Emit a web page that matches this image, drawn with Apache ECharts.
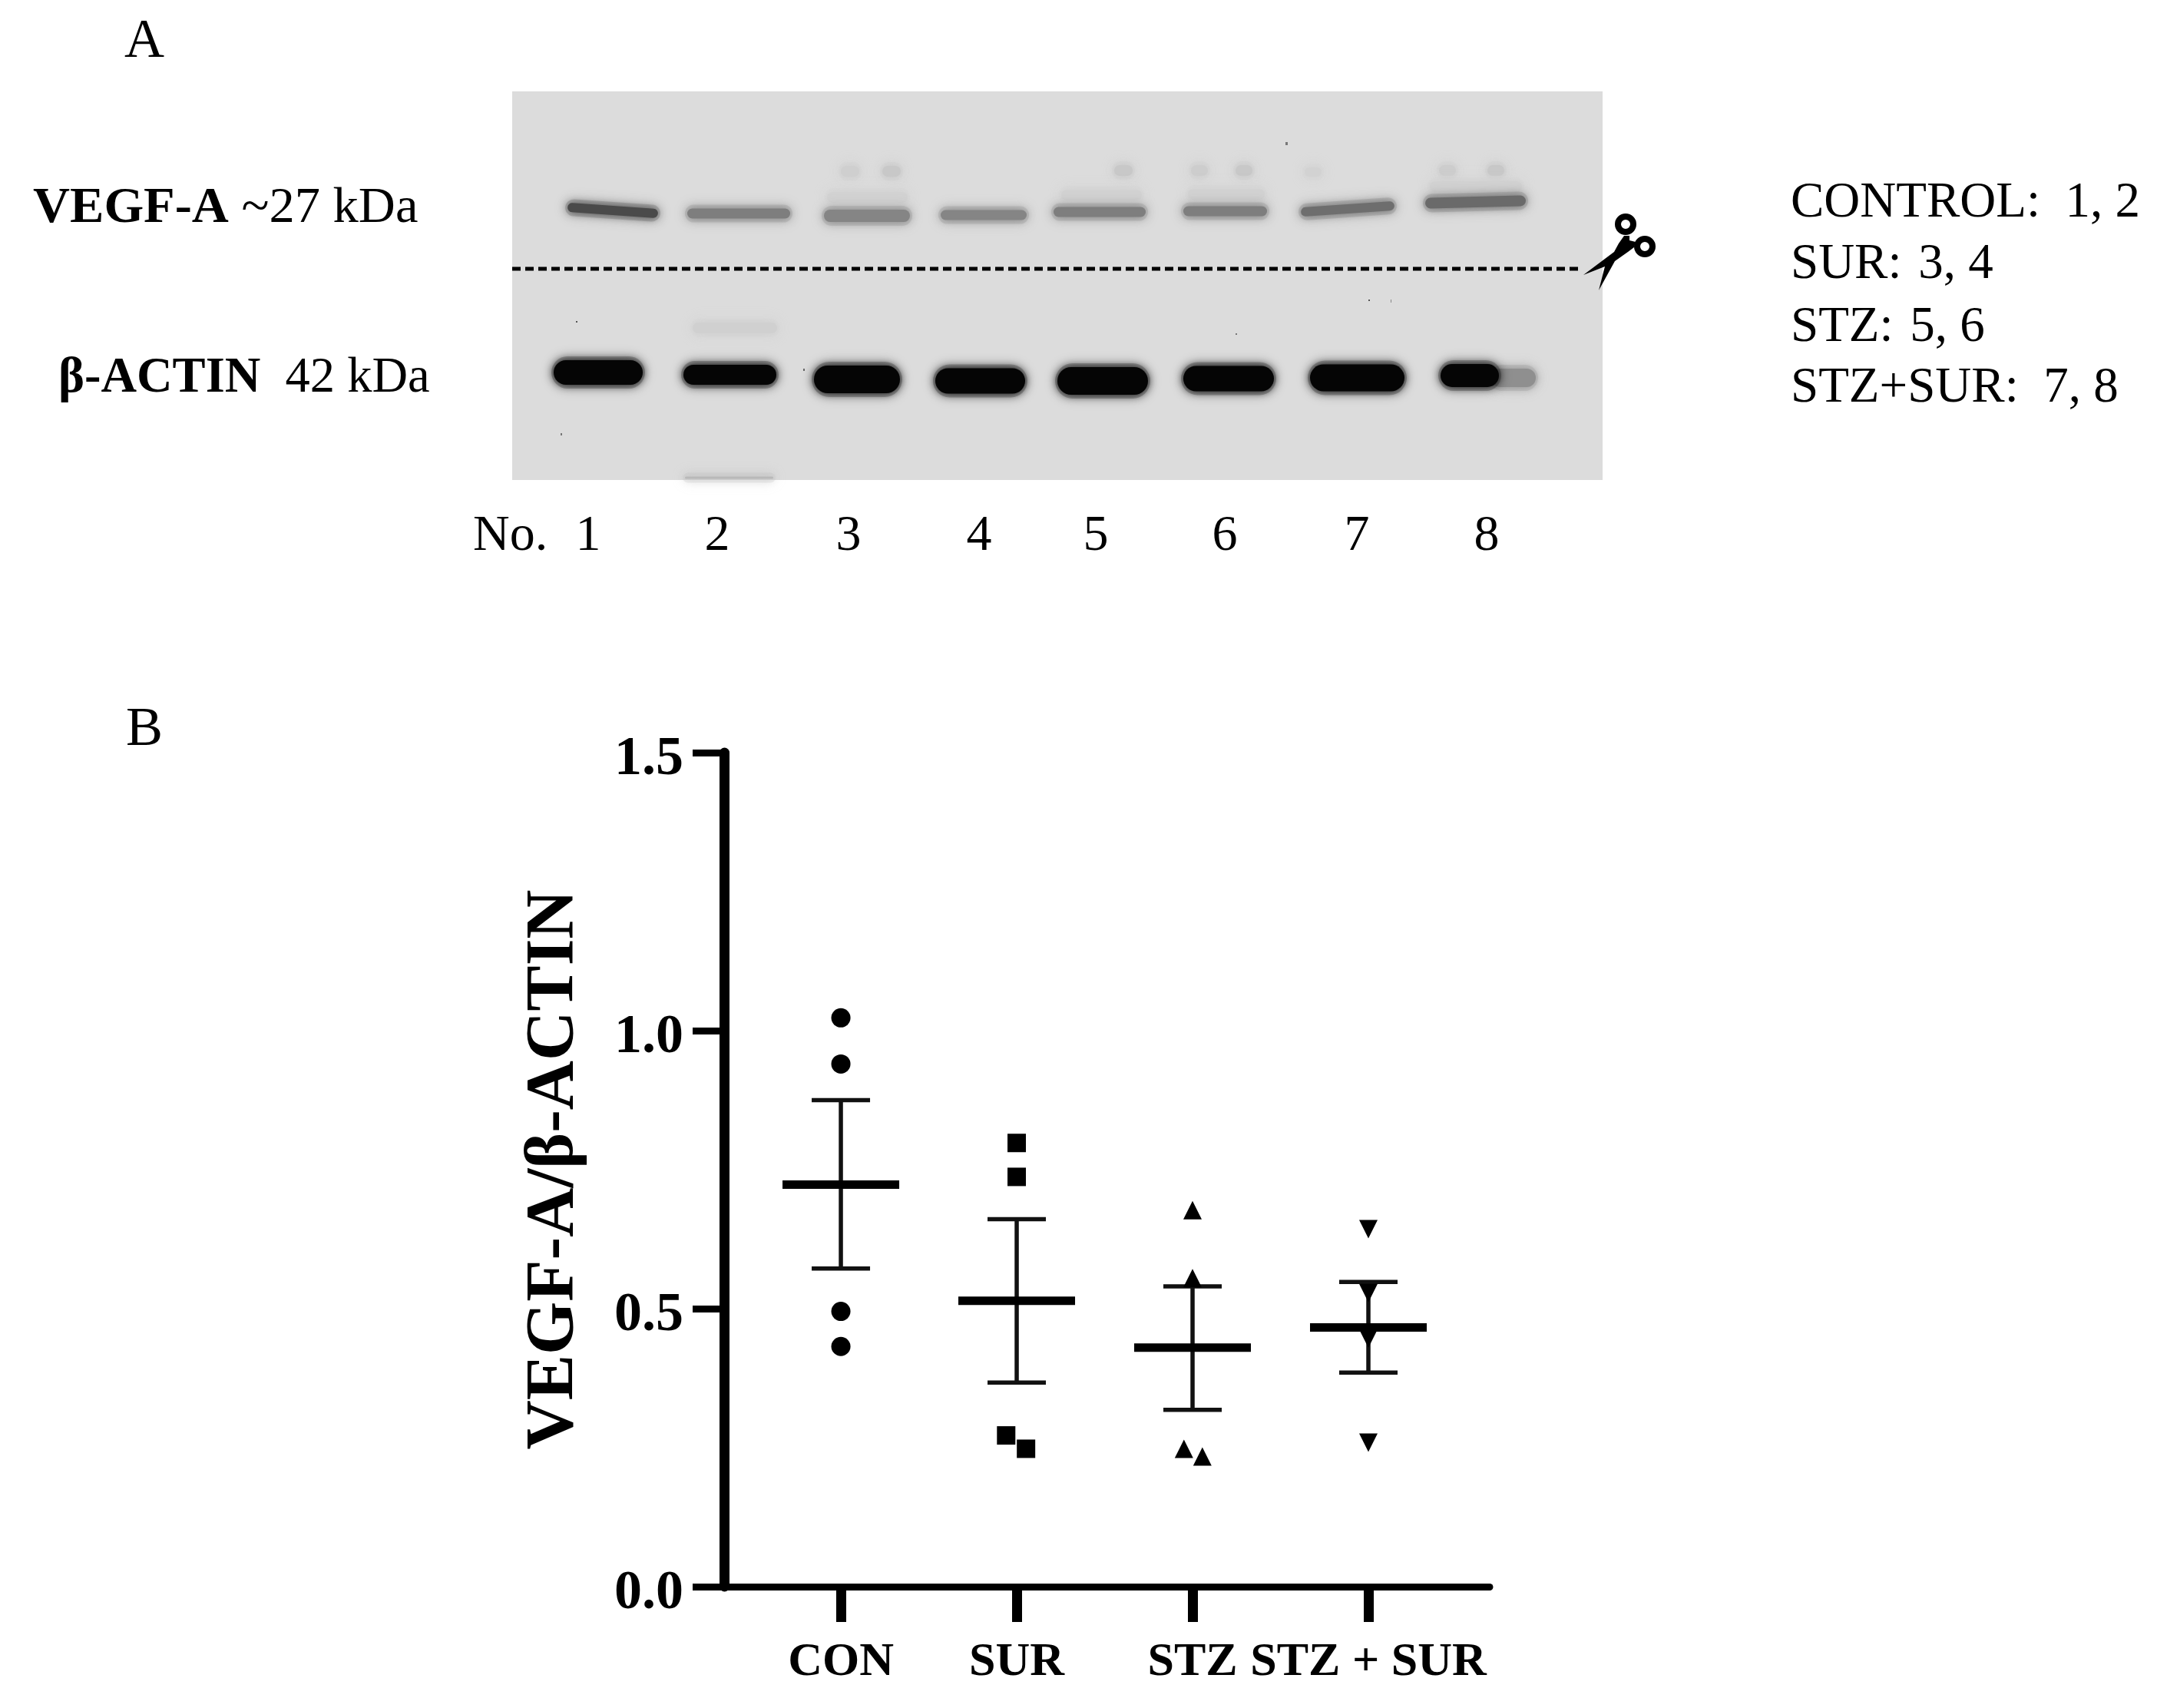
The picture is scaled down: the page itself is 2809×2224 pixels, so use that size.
<!DOCTYPE html>
<html>
<head>
<meta charset="utf-8">
<title>VEGF-A</title>
<script src="https://cdn.jsdelivr.net/npm/echarts@6/dist/echarts.min.js"></script>
<style>
    html, body { margin: 0; padding: 0; background: #fff; }
    #chart { width: 2809px; height: 2224px; }
</style>
</head>
<body>
<div id="chart"></div>
<script>
    // panel B, values
    const groupNames = ['CON', 'SUR', 'STZ', 'STZ + SUR'];
    const conValues = [1.023, 0.940, 0.495, 0.432];
    const surValues = [0.798, 0.737, 0.272, 0.248];
    const stzValues = [0.677, 0.555, 0.248, 0.234];
    const stzSurValues = [0.643, 0.528, 0.446, 0.259];
    const conX = [1, 1, 1, 1];
    const surX = [2, 2, 1.94, 2.053];
    const stzX = [3, 3, 2.951, 3.056];
    const stzSurX = [4, 4, 4, 4];
    const means = [0.723, 0.514, 0.430, 0.466];
    const semTop = [0.875, 0.661, 0.540, 0.548];
    const semBottom = [0.572, 0.367, 0.318, 0.385];
    const yTicks = [0, 0.5, 1, 1.5];

    // panel A, gel bands: [from, to, y, thickness, tilt, grey]
    const vegfBands = [
        [72, 190, 155, 12, 4, '#4a4a4a'],
        [228, 362, 159, 13, 0, '#7e7e7e'],
        [406, 518, 162, 16, 0, '#858585'],
        [558, 670, 161, 13, 0, '#858585'],
        [705, 825, 157, 13, 0, '#7e7e7e'],
        [874, 983, 156, 13, 0, '#7e7e7e'],
        [1027, 1149, 153, 12, -4, '#6e6e6e'],
        [1189, 1320, 144, 14, -1.5, '#6a6a6a']
    ];
    const actinBands = [
        [54, 170, 366, 32, 0, '#050505'],
        [223, 344, 369, 26, 0, '#050505'],
        [393, 505, 375, 36, 0, '#050505'],
        [551, 668, 377, 33, 0, '#050505'],
        [710, 828, 377, 36, 0, '#050505'],
        [874, 992, 374, 33, 0, '#050505'],
        [1039, 1162, 373, 35, 0, '#050505'],
        [1275, 1333, 373, 24, 0, '#8f8f8f'],
        [1209, 1285, 370, 30, 0, '#050505']
    ];
    const faintBands = [
        [428, 452, 104, 14, 0, '#cfcfcf'],
        [482, 506, 104, 14, 0, '#c8c8c8'],
        [784, 808, 103, 14, 0, '#c8c8c8'],
        [884, 906, 103, 14, 0, '#cdcdcd'],
        [942, 964, 103, 14, 0, '#c8c8c8'],
        [1032, 1054, 105, 12, 0, '#d2d2d2'],
        [1207, 1229, 103, 14, 0, '#cdcdcd'],
        [1270, 1292, 103, 14, 0, '#c8c8c8'],
        [410, 515, 138, 14, 0, '#d2d2d2'],
        [715, 820, 135, 14, 0, '#d2d2d2'],
        [880, 980, 134, 14, 0, '#d2d2d2'],
        [1195, 1315, 124, 14, 0, '#d2d2d2'],
        [235, 345, 308, 14, 0, '#d0d0d0'],
        [225, 340, 503, 3, 0, '#b9b9b9']
    ];
    const specks = [
        [83, 299, 2, 2, 0, '#555555'],
        [63, 445, 2, 3, 0, '#777777'],
        [379, 361, 2, 3, 0, '#666666'],
        [1007, 66, 3, 4, 0, '#777777'],
        [1115, 271, 2, 2, 0, '#555555'],
        [942, 315, 2, 2, 0, '#777777'],
        [1144, 271, 1, 4, 0, '#888888']
    ];
    const cutLine = [[0, 231], [1388, 231]];

    const laneNumbers = ['1', '2', '3', '4', '5', '6', '7', '8'];
    const laneLabelX = [766, 934, 1105, 1275, 1427, 1595, 1767, 1936];
    const legendLines = ['CONTROL:  1, 2', 'SUR:\u200a 3, 4', 'STZ:\u200a 5, 6', 'STZ+SUR:  7, 8'];
    const legendY = [265, 345, 427, 506];

    const serif = '"Liberation Serif", "Times New Roman", serif';

    function bandItem(params, api) {
        const a = api.coord([api.value(0), api.value(2)]);
        const b = api.coord([api.value(1), api.value(2)]);
        const thick = api.value(3);
        const grey = api.value(5);
        const w = b[0] - a[0];
        return {
            type: 'group',
            x: (a[0] + b[0]) / 2,
            y: a[1],
            rotation: -api.value(4) * Math.PI / 180,
            children: [
                {
                    // soft halo round the band
                    type: 'rect',
                    shape: { x: -w / 2 - 3, y: -thick / 2 - 5, width: w + 6, height: thick + 10, r: thick / 2 + 5 },
                    style: { fill: grey, opacity: 0.22, shadowBlur: 16, shadowColor: grey }
                },
                {
                    type: 'rect',
                    shape: { x: -w / 2, y: -thick / 2, width: w, height: thick, r: thick / 2 },
                    style: { fill: grey, shadowBlur: 12, shadowColor: grey }
                }
            ]
        };
    }

    function bandSeries(data) {
        return {
            type: 'custom',
            xAxisIndex: 1,
            yAxisIndex: 1,
            silent: true,
            renderItem: bandItem,
            dimensions: ['from', 'to', 'y', 'thick', 'tilt', { name: 'grey', type: 'ordinal' }],
            encode: { x: [0, 1], y: 2 },
            data: data,
            z: 3
        };
    }

    function speckItem(params, api) {
        const p = api.coord([api.value(0), api.value(1)]);
        return {
            type: 'rect',
            shape: { x: p[0], y: p[1], width: api.value(2), height: api.value(3) },
            style: { fill: api.value(5) }
        };
    }

    function pointSeries(name, xs, ys, symbol, size, rotate) {
        return {
            name: name,
            type: 'scatter',
            symbol: symbol,
            symbolSize: size,
            symbolRotate: rotate || 0,
            itemStyle: { color: '#000', opacity: 1 },
            data: ys.map((v, i) => [xs[i], v]),
            z: 4
        };
    }

    function errorItem(params, api) {
        const x = api.value(0);
        const top = api.coord([x, api.value(2)]);
        const bottom = api.coord([x, api.value(3)]);
        const mean = api.coord([x, api.value(1)]);
        const thin = { stroke: '#111', lineWidth: 5.5 };
        const capHalf = 38;
        const meanHalf = 76;
        return {
            type: 'group',
            children: [
                { type: 'line', shape: { x1: top[0], y1: top[1], x2: bottom[0], y2: bottom[1] }, style: thin },
                { type: 'line', shape: { x1: top[0] - capHalf, y1: top[1], x2: top[0] + capHalf, y2: top[1] }, style: thin },
                { type: 'line', shape: { x1: top[0] - capHalf, y1: bottom[1], x2: top[0] + capHalf, y2: bottom[1] }, style: thin },
                { type: 'line', shape: { x1: mean[0] - meanHalf, y1: mean[1], x2: mean[0] + meanHalf, y2: mean[1] }, style: { stroke: '#000', lineWidth: 11 } }
            ]
        };
    }

    function textEl(text, x, y, size, align) {
        return {
            type: 'text',
            x: x,
            y: y,
            z: 10,
            style: {
                text: text,
                fill: '#000',
                font: size + 'px ' + serif,
                align: align || 'left',
                verticalAlign: 'middle'
            }
        };
    }

    function richLabel(bold, rest, x, y, size) {
        return {
            type: 'text',
            x: x,
            y: y,
            z: 10,
            style: {
                text: '{b|' + bold + '}{r|' + rest + '}',
                verticalAlign: 'middle',
                rich: {
                    b: { font: 'bold ' + size + 'px ' + serif, fill: '#000' },
                    r: { font: size + 'px ' + serif, fill: '#000' }
                }
            }
        };
    }

    const graphics = [
        textEl('A', 162, 55, 72),
        textEl('B', 164, 951, 72),
        richLabel('VEGF-A', ' ~27 kDa', 43, 272, 66.5),
        richLabel('β-ACTIN', '  42 kDa', 76, 493, 64.5),
        textEl('No.', 616, 699, 66)
    ];
    laneNumbers.forEach((n, i) => graphics.push(textEl(n, laneLabelX[i], 699, 66, 'center')));
    legendLines.forEach((t, i) => graphics.push(textEl(t, 2332, legendY[i], 65)));

    // scissors at the end of the cut line
    const scissorRing = { stroke: '#000', lineWidth: 8, fill: 'none' };
    graphics.push(
        { type: 'circle', z: 10, shape: { cx: 2117, cy: 292, r: 10 }, style: scissorRing },
        { type: 'circle', z: 10, shape: { cx: 2142, cy: 321, r: 10 }, style: scissorRing },
        {
            type: 'polygon',
            z: 10,
            shape: {
                points: [[2062, 358], [2102, 328], [2108, 317], [2115, 307], [2122, 307], [2122, 313],
                    [2130, 315], [2128, 322], [2120, 328], [2103, 340], [2082, 378], [2090, 347]]
            },
            style: { fill: '#000' }
        }
    );

    const option = {
        animation: false,
        backgroundColor: '#fff',
        graphic: graphics,
        grid: [
            { left: 943, top: 980, width: 997, height: 1086 },
            { left: 667, top: 119, width: 1420, height: 506, show: true, backgroundColor: '#dcdcdc', borderWidth: 0 }
        ],
        xAxis: [
            {
                type: 'value',
                gridIndex: 0,
                min: 0.336,
                max: 4.69,
                splitLine: { show: false },
                axisLine: { onZero: false, lineStyle: { color: '#000', width: 9 } },
                axisTick: { length: 46, customValues: [1, 2, 3, 4], lineStyle: { color: '#000', width: 13 } },
                axisLabel: {
                    customValues: [1, 2, 3, 4],
                    margin: 68,
                    color: '#000',
                    fontFamily: serif,
                    fontWeight: 'bold',
                    fontSize: 62,
                    formatter: (v) => groupNames[Math.round(v) - 1]
                }
            },
            { type: 'value', gridIndex: 1, min: 0, max: 1420, show: false }
        ],
        yAxis: [
            {
                type: 'value',
                gridIndex: 0,
                min: 0,
                max: 1.5,
                interval: 0.5,
                name: 'VEGF-A/β-ACTIN',
                nameLocation: 'middle',
                nameRotate: 90,
                nameGap: 176,
                nameTextStyle: { color: '#000', fontFamily: serif, fontWeight: 'bold', fontSize: 89 },
                splitLine: { show: false },
                axisLine: { lineStyle: { color: '#000', width: 13 } },
                axisTick: { length: 41, lineStyle: { color: '#000', width: 9 } },
                axisLabel: {
                    customValues: yTicks,
                    margin: 53,
                    verticalAlign: 'top',
                    lineHeight: 18,
                    color: '#000',
                    fontFamily: serif,
                    fontWeight: 'bold',
                    fontSize: 72,
                    formatter: (v) => v.toFixed(1)
                }
            },
            { type: 'value', gridIndex: 1, min: 0, max: 506, inverse: true, show: false }
        ],
        series: [
            bandSeries(faintBands),
            bandSeries(vegfBands),
            bandSeries(actinBands),
            {
                type: 'custom',
                xAxisIndex: 1,
                yAxisIndex: 1,
                silent: true,
                renderItem: speckItem,
                dimensions: ['x', 'y', 'w', 'h', 'r', { name: 'grey', type: 'ordinal' }],
                encode: { x: 0, y: 1 },
                data: specks,
                z: 3
            },
            {
                type: 'line',
                xAxisIndex: 1,
                yAxisIndex: 1,
                symbol: 'none',
                silent: true,
                lineStyle: { color: '#000', width: 5, type: [11, 6] },
                data: cutLine,
                z: 5
            },
            pointSeries('CON', conX, conValues, 'circle', 25),
            pointSeries('SUR', surX, surValues, 'rect', 24),
            pointSeries('STZ', stzX, stzValues, 'triangle', 24),
            pointSeries('STZ + SUR', stzSurX, stzSurValues, 'triangle', 24, 180),
            {
                type: 'custom',
                renderItem: errorItem,
                encode: { x: 0, y: [1, 2, 3] },
                data: means.map((m, i) => [i + 1, m, semTop[i], semBottom[i]]),
                z: 4
            }
        ]
    };

    const chart = echarts.init(document.getElementById('chart'));
    chart.setOption(option);
</script>
</body>
</html>
